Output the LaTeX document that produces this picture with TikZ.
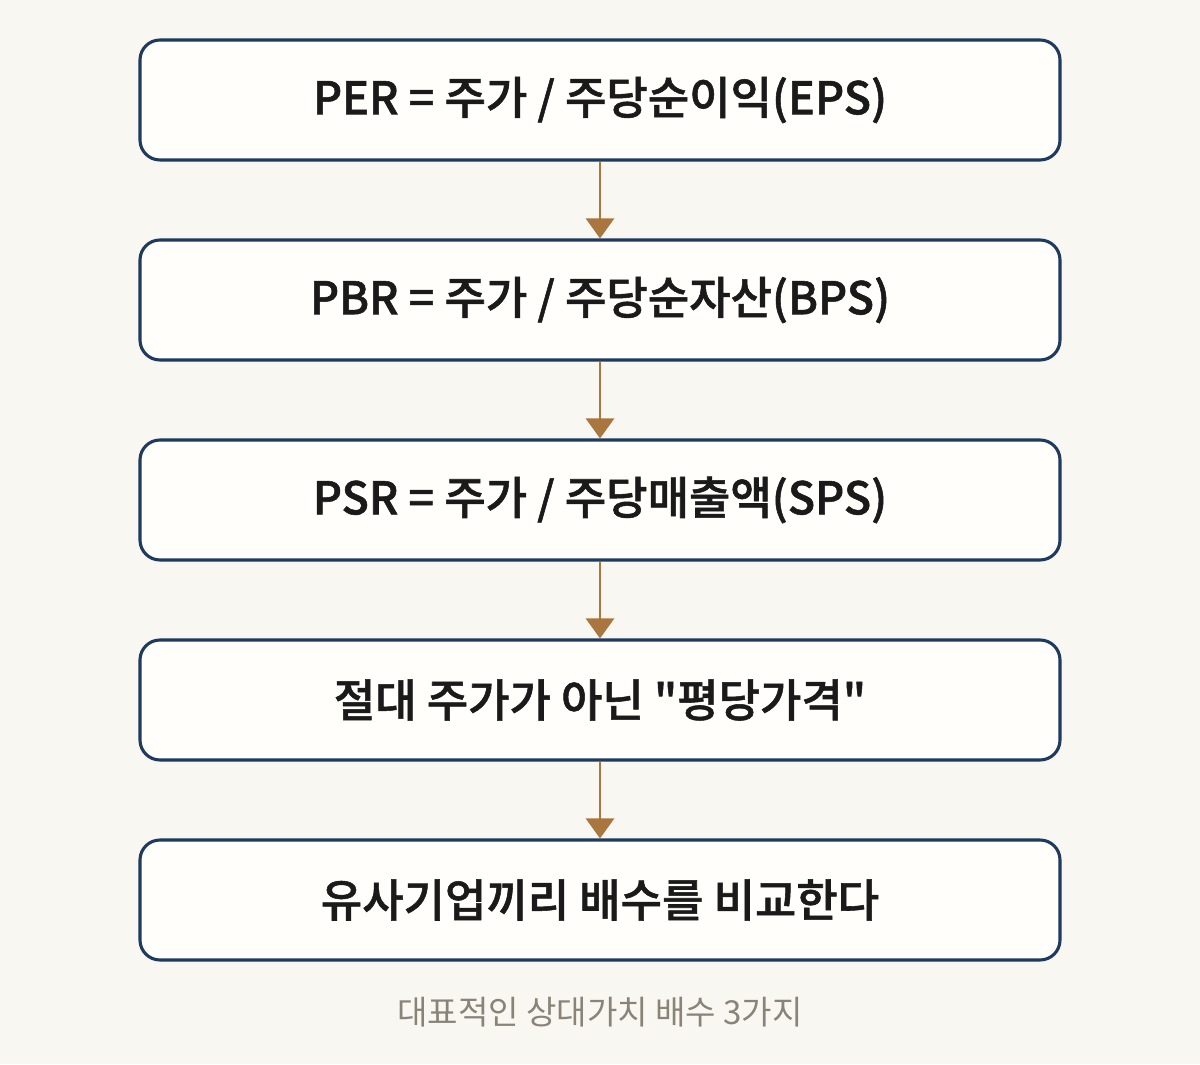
\documentclass[tikz,border=0pt]{standalone}
\usepackage{fontspec}
\setmainfont{Noto Sans CJK KR}[Ligatures = TeXOff, BoldFont = Noto Sans CJK KR Medium, BoldFeatures = {FakeBold = 1.2}]
\usetikzlibrary{arrows.meta}
\definecolor{pagebg}{HTML}{F9F7F1}
\definecolor{boxfill}{HTML}{FFFEFA}
\definecolor{boxline}{HTML}{1E3A5F}
\definecolor{arrowcol}{HTML}{A8763E}
\definecolor{textcol}{HTML}{1A1A1A}
\definecolor{notecol}{HTML}{8A8478}
\begin{document}
\begin{tikzpicture}[
    ratio/.style = {draw = boxline, fill = boxfill, line width = 2.2pt, rounded corners = 0.5cm,
        minimum width = 23cm, minimum height = 3cm, inner sep = 0pt,
        text = textcol, font = \fontsize{32}{38}\selectfont\bfseries},
    flow/.style = {draw = arrowcol, line width = 2pt, -{Triangle[width = 0.7cm, length = 0.5cm]}}
    ]
    	\fill [pagebg] (0, 0) rectangle (30, 26.6);
	\node [ratio] at (15, 24.1) (per) {PER = 주가 / 주당순이익(EPS)};
	\node [ratio] at (15, 19.1) (pbr) {PBR = 주가 / 주당순자산(BPS)};
	\node [ratio] at (15, 14.1) (psr) {PSR = 주가 / 주당매출액(SPS)};
	\node [ratio] at (15, 9.1) (price) {절대 주가가 아닌 "평당가격"};
	\node [ratio] at (15, 4.1) (compare) {유사기업끼리 배수를 비교한다};
        \draw [flow] (per) to (pbr);
        \draw [flow] (pbr) to (psr);
        \draw [flow] (psr) to (price);
        \draw [flow] (price) to (compare);
        \node [color = notecol, font = \fontsize{23.5}{28}\selectfont] at (15, 1.3) (note) {대표적인 상대가치 배수 3가지};
    \end{tikzpicture}
\end{document}
